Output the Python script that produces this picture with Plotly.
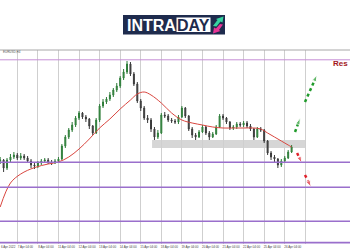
import plotly.graph_objects as go

W, H = 350, 250
M_T, M_B = 50, 6

# ---------------- data ----------------
first_open = 1.0945
closes = [1.0950, 1.0910, 1.0950, 1.0965, 1.0975, 1.0960, 1.0970, 1.0960, 1.0945, 1.0925,
          1.0920, 1.0935, 1.0945, 1.0950, 1.0940, 1.0935, 1.0945, 1.0955, 1.1020, 1.1065,
          1.1100, 1.1125, 1.1160, 1.1185, 1.1165, 1.1155, 1.1120, 1.1085, 1.1150, 1.1220,
          1.1240, 1.1255, 1.1275, 1.1300, 1.1320, 1.1360, 1.1390, 1.1430, 1.1380, 1.1330,
          1.1245, 1.1210, 1.1160, 1.1150, 1.1105, 1.1065, 1.1085, 1.1175, 1.1170, 1.1150,
          1.1145, 1.1140, 1.1165, 1.1210, 1.1170, 1.1105, 1.1075, 1.1065, 1.1090, 1.1115,
          1.1085, 1.1065, 1.1080, 1.1115, 1.1170, 1.1160, 1.1140, 1.1110, 1.1115, 1.1130,
          1.1125, 1.1135, 1.1120, 1.1105, 1.1065, 1.1105, 1.1100, 1.1045, 1.0985, 1.0965,
          1.0955, 1.0925, 1.0945, 1.0960, 1.0990, 1.1015]
highs = [1.0965, 1.0955, 1.0960, 1.0980, 1.0990, 1.0985, 1.0985, 1.0980, 1.0970, 1.0955,
         1.0935, 1.0945, 1.0955, 1.0960, 1.0960, 1.0950, 1.0955, 1.0965, 1.1030, 1.1075,
         1.1110, 1.1140, 1.1170, 1.1195, 1.1190, 1.1175, 1.1160, 1.1125, 1.1160, 1.1230,
         1.1255, 1.1265, 1.1290, 1.1310, 1.1335, 1.1370, 1.1405, 1.1445, 1.1440, 1.1390,
         1.1340, 1.1255, 1.1220, 1.1175, 1.1160, 1.1115, 1.1100, 1.1185, 1.1190, 1.1180,
         1.1160, 1.1155, 1.1175, 1.1220, 1.1215, 1.1175, 1.1115, 1.1085, 1.1100, 1.1125,
         1.1120, 1.1095, 1.1090, 1.1125, 1.1180, 1.1180, 1.1165, 1.1145, 1.1125, 1.1140,
         1.1140, 1.1145, 1.1145, 1.1130, 1.1110, 1.1115, 1.1115, 1.1105, 1.1050, 1.0995,
         1.0975, 1.0960, 1.0955, 1.0970, 1.1000, 1.1025]
lows = [1.0930, 1.0890, 1.0900, 1.0940, 1.0955, 1.0950, 1.0950, 1.0950, 1.0935, 1.0910,
        1.0905, 1.0910, 1.0925, 1.0935, 1.0930, 1.0925, 1.0930, 1.0935, 1.0950, 1.1010,
        1.1055, 1.1090, 1.1115, 1.1150, 1.1155, 1.1140, 1.1105, 1.1075, 1.1080, 1.1140,
        1.1210, 1.1230, 1.1245, 1.1265, 1.1290, 1.1310, 1.1350, 1.1380, 1.1370, 1.1320,
        1.1235, 1.1195, 1.1150, 1.1135, 1.1090, 1.1050, 1.1055, 1.1080, 1.1160, 1.1140,
        1.1135, 1.1130, 1.1130, 1.1160, 1.1160, 1.1095, 1.1060, 1.1050, 1.1060, 1.1085,
        1.1075, 1.1050, 1.1060, 1.1075, 1.1110, 1.1150, 1.1130, 1.1100, 1.1100, 1.1105,
        1.1115, 1.1115, 1.1110, 1.1095, 1.1050, 1.1060, 1.1090, 1.1035, 1.0975, 1.0950,
        1.0940, 1.0910, 1.0915, 1.0935, 1.0955, 1.0985]
opens = [first_open] + closes[:-1]
bars = list(range(len(closes)))

ma_bars = [0, 3, 6, 10, 14, 17, 20, 23, 26, 29, 32, 35, 38, 40, 42, 44, 47, 50, 53, 56,
           59, 62, 65, 68, 71, 74, 76, 78, 80, 82, 84, 85]
ma_vals = [1.0715, 1.0835, 1.0880, 1.0912, 1.0930, 1.0940, 1.0965, 1.1005, 1.1055, 1.1110,
           1.1155, 1.1205, 1.1250, 1.1280, 1.1290, 1.1275, 1.1235, 1.1185, 1.1150, 1.1135,
           1.1125, 1.1115, 1.1110, 1.1110, 1.1110, 1.1110, 1.1105, 1.1085, 1.1065, 1.1045,
           1.1025, 1.1015]

levels_main = [1.0939, 1.0814, 1.0644, 1.0537]
level_top = 1.1451

zone_bars = [44.3, 88.9]
zone_prices = [1.1010, 1.1050]

arrows_up = [([86.0, 87.5], [1.1090, 1.1160]), ([88.9, 92.4], [1.1240, 1.1375])]
arrows_down = [([86.6, 88.0], [1.0985, 1.0935]), ([88.9, 90.7], [1.0875, 1.0815])]

tick_bars = [0, 5, 11, 17, 23, 29, 35, 41, 47, 53, 59, 65, 71, 77, 83, 89]
tick_text = ["6 Apr 2022", "7 Apr 04:00", "8 Apr 04:00", "11 Apr 04:00", "12 Apr 04:00",
             "13 Apr 04:00", "14 Apr 04:00", "15 Apr 04:00", "18 Apr 04:00", "19 Apr 04:00",
             "20 Apr 04:00", "21 Apr 04:00", "22 Apr 04:00", "25 Apr 04:00", "26 Apr 04:00",
             ""]

# ---------------- helpers ----------------
PLOT_H = H - M_T - M_B


def px(x):
    return x / W


def py(y):
    return (H - M_B - y) / PLOT_H


fig = go.Figure()

fig.add_trace(go.Candlestick(
    x=bars, open=opens, high=highs, low=lows, close=closes,
    increasing=dict(line=dict(color="#2f7d3a", width=1), fillcolor="#3f9a4a"),
    decreasing=dict(line=dict(color="#3a3a3a", width=1), fillcolor="#4a4a4a"),
    whiskerwidth=0, showlegend=False, hoverinfo="skip"))

fig.add_trace(go.Scatter(x=ma_bars, y=ma_vals, mode="lines", line_shape="spline",
                         line=dict(color="#d9463f", width=1), showlegend=False,
                         hoverinfo="skip"))

for xs, ys in arrows_up:
    fig.add_trace(go.Scatter(x=xs, y=ys, mode="lines+markers",
                             line=dict(color="#1f9a2a", width=2.5, dash="dot"),
                             marker=dict(symbol="arrow", size=[0, 7], angleref="previous",
                                         color="#1f9a2a"),
                             showlegend=False, hoverinfo="skip"))
for xs, ys in arrows_down:
    fig.add_trace(go.Scatter(x=xs, y=ys, mode="lines+markers",
                             line=dict(color="#e0202a", width=2.5, dash="dot"),
                             marker=dict(symbol="arrow", size=[0, 7], angleref="previous",
                                         color="#e0202a"),
                             showlegend=False, hoverinfo="skip"))

shapes = []
# support zone
shapes.append(dict(type="rect", xref="x", yref="y", x0=zone_bars[0], x1=zone_bars[1],
                   y0=zone_prices[0], y1=zone_prices[1], fillcolor="#d6d6d6",
                   line=dict(width=0), layer="below"))
# levels
for lv in levels_main:
    shapes.append(dict(type="line", xref="paper", yref="y", x0=0, x1=1, y0=lv, y1=lv,
                       line=dict(color="#9a6fcc", width=1.6)))
shapes.append(dict(type="line", xref="paper", yref="y", x0=0, x1=1, y0=level_top, y1=level_top,
                   line=dict(color="#c68fd6", width=1)))
# top frame
shapes.append(dict(type="line", xref="paper", yref="paper", x0=0, x1=1, y0=1, y1=1,
                   line=dict(color="#a8a8a8", width=1)))

# logo
shapes.append(dict(type="rect", xref="paper", yref="paper", x0=px(123), x1=px(225),
                   y0=py(34.5), y1=py(15), fillcolor="#1e2b4d", line=dict(width=0)))
shapes.append(dict(type="rect", xref="paper", yref="paper", x0=px(176.5), x1=px(210.5),
                   y0=py(32), y1=py(17.5), fillcolor="#ffffff", line=dict(width=0)))


def path(points):
    return "M " + " L ".join(f"{px(a):.5f},{py(b):.5f}" for a, b in points) + " Z"


shapes.append(dict(type="path", xref="paper", yref="paper",
                   path=path([(213, 26), (217.5, 20), (216, 19), (223.5, 16.5), (222.5, 22.5),
                              (220.5, 21.5), (216.5, 26.5)]),
                   fillcolor="#36d3a0", line=dict(width=0)))
shapes.append(dict(type="path", xref="paper", yref="paper",
                   path=path([(223, 24.5), (219, 30), (220.5, 31), (213, 33.5), (214, 27.5),
                              (216, 28.5), (220, 24)]),
                   fillcolor="#e83596", line=dict(width=0)))

annotations = [
    dict(text="<b>INTRA</b>", x=px(151), y=py(25), xref="paper", yref="paper",
         xanchor="center", yanchor="middle", showarrow=False,
         font=dict(family="Liberation Sans", size=16, color="#ffffff")),
    dict(text="<b>DAY</b>", x=px(193.5), y=py(25), xref="paper", yref="paper",
         xanchor="center", yanchor="middle", showarrow=False,
         font=dict(family="Liberation Sans", size=16, color="#1e2b4d")),
    dict(text="<b>Res</b>", x=px(349.5), y=py(64), xref="paper", yref="paper",
         xanchor="right", yanchor="middle", showarrow=False,
         font=dict(family="Liberation Sans", size=8, color="#a3161c")),
    dict(text="EURUSD,H4", x=px(0.5), y=py(52), xref="paper", yref="paper",
         xanchor="left", yanchor="middle", showarrow=False,
         font=dict(family="Liberation Sans", size=3, color="#555555")),
]

fig.update_layout(
    width=W, height=H,
    margin=dict(l=0, r=0, t=M_T, b=M_B, pad=0),
    paper_bgcolor="#ffffff", plot_bgcolor="#ffffff",
    shapes=shapes, annotations=annotations,
    boxgap=0.6,
    xaxis=dict(range=[-0.05, 102.03], rangeslider=dict(visible=False),
               tickmode="array", tickvals=tick_bars, ticktext=tick_text, tickangle=0,
               showgrid=True, gridcolor="#cfcfcf", gridwidth=1, zeroline=False,
               showline=False, ticks="", ticklabelshift=8, ticklabelstandoff=0,
               tickfont=dict(family="Liberation Sans", size=3, color="#444444")),
    yaxis=dict(range=[1.053, 1.150], showgrid=False, zeroline=False, showticklabels=False,
               ticks="", showline=False),
    hovermode=False,
)

fig.write_html("out.html")
